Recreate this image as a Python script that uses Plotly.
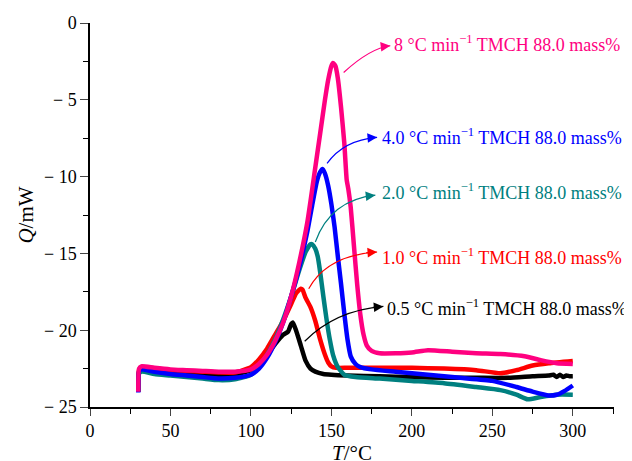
import plotly.graph_objects as go

# ---------------- data ----------------
black_x = [30, 30.5, 32, 40, 50, 60, 70, 80, 90, 100, 105, 110, 115, 120, 123, 125, 126, 128, 131, 134, 137, 140, 145, 150, 160, 180, 200, 220, 240, 260, 275, 285, 288, 290, 292, 294, 296, 298, 300]
black_y = [-24.0, -22.7, -22.5, -22.6, -22.7, -22.8, -22.85, -22.9, -22.9, -22.6, -22.2, -21.6, -20.9, -20.3, -20.1, -19.6, -19.5, -20.0, -21.0, -22.0, -22.5, -22.7, -22.85, -22.9, -22.95, -23.0, -23.05, -23.1, -23.1, -23.1, -23.0, -22.95, -22.9, -23.05, -22.9, -23.05, -22.95, -23.0, -23.0]

red_x = [30, 30.5, 32, 40, 50, 60, 70, 80, 90, 100, 105, 110, 115, 120, 125, 128, 131, 132, 134, 137, 140, 143, 146, 148, 150, 153, 160, 180, 200, 220, 240, 255, 265, 275, 285, 300]
red_y = [-24.0, -22.6, -22.4, -22.5, -22.6, -22.65, -22.7, -22.75, -22.75, -22.4, -21.9, -21.2, -20.3, -19.4, -18.3, -17.6, -17.3, -17.35, -17.9, -18.5, -19.4, -20.6, -21.6, -22.1, -22.35, -22.45, -22.45, -22.45, -22.45, -22.5, -22.6, -22.8, -22.6, -22.3, -22.15, -22.0]

teal_x = [30, 30.5, 32, 40, 50, 60, 70, 80, 90, 100, 105, 110, 115, 120, 125, 130, 134, 137, 138, 140, 141.5, 143, 145, 147, 149, 151, 154, 158, 165, 180, 200, 220, 240, 255, 265, 272, 280, 290, 300]
teal_y = [-24.0, -22.8, -22.7, -22.85, -22.95, -23.05, -23.15, -23.25, -23.2, -22.9, -22.4, -21.6, -20.6, -19.3, -17.8, -16.1, -14.9, -14.4, -14.4, -14.7, -15.2, -16.2, -17.8, -19.3, -20.6, -21.6, -22.4, -22.9, -23.05, -23.15, -23.3, -23.45, -23.7, -23.9, -24.2, -24.5, -24.35, -24.2, -24.2]

blue_x = [30, 30.5, 32, 40, 50, 60, 70, 80, 90, 100, 105, 110, 115, 120, 125, 130, 135, 138, 141, 143, 144.5, 146, 148, 150, 152, 154, 156, 158, 160, 162, 165, 168, 175, 190, 210, 230, 250, 265, 275, 285, 290, 295, 300]
blue_y = [-24.05, -22.7, -22.55, -22.7, -22.85, -22.95, -23.05, -23.15, -23.1, -22.9, -22.5, -21.8, -20.8, -19.5, -17.8, -15.9, -13.6, -11.9, -10.3, -9.7, -9.5, -9.8, -10.6, -11.8, -13.3, -15.2, -17.0, -18.9, -20.6, -21.7, -22.2, -22.4, -22.55, -22.7, -22.9, -23.1, -23.3, -23.7, -24.0, -24.25, -24.2, -23.95, -23.6]

pink_x = [30, 30.5, 32, 40, 50, 60, 70, 80, 90, 100, 105, 110, 115, 120, 125, 130, 135, 140, 143, 146, 148, 150, 151, 152.5, 154, 156, 158, 159.5, 160.5, 162, 164, 166, 168, 170, 172, 175, 180, 190, 200, 210, 225, 240, 255, 270, 280, 290, 300]
pink_y = [-24.0, -22.5, -22.35, -22.45, -22.55, -22.6, -22.65, -22.7, -22.7, -22.55, -22.2, -21.6, -20.7, -19.5, -17.8, -15.6, -13.0, -9.4, -7.2, -5.0, -3.7, -2.8, -2.6, -2.8, -3.6, -5.5, -7.8, -10.2, -10.8, -12.0, -14.5, -17.0, -19.0, -20.3, -21.0, -21.35, -21.5, -21.5, -21.45, -21.3, -21.4, -21.5, -21.55, -21.7, -21.95, -22.15, -22.2]

series_names = ["0.5", "1.0", "2.0", "4.0", "8"]
series_colors = ["#000000", "#FF0000", "#008080", "#0000FF", "#FF0080"]

# label text anchor (data coords) and curved arrow (start, control, end)
label_pos = [(183.5, -18.5), (180.4, -15.19), (180.4, -10.99), (180.4, -7.40), (187.7, -1.31)]
arrow_start = [(133.4, -20.72), (135.9, -17.30), (140.0, -14.26), (147.3, -9.14), (157.6, -3.22)]
arrow_ctrl = [(152.4, -18.71), (147.3, -15.12), (149.4, -11.53), (157.6, -7.62), (174.2, -1.63)]
arrow_end = [(182.3, -18.45), (178.4, -14.91), (177.3, -11.21), (178.4, -7.44), (186.6, -1.48)]

x_ticks = [0, 50, 100, 150, 200, 250, 300]
y_ticks = [0, -5, -10, -15, -20, -25]
y_ticktext = ["0", "\u2212 5", "\u2212 10", "\u2212 15", "\u2212 20", "\u2212 25"]

FONT = "Liberation Serif"

fig = go.Figure()
all_x = [black_x, red_x, teal_x, blue_x, pink_x]
all_y = [black_y, red_y, teal_y, blue_y, pink_y]
for xs, ys, c, n in zip(all_x, all_y, series_colors, series_names):
    fig.add_trace(go.Scatter(x=xs, y=ys, mode="lines", name=n,
                             line=dict(color=c, width=4.5, shape="spline", smoothing=0.5),
                             showlegend=False, hoverinfo="skip"))

shapes = []
annotations = []
for name, col, lp, s, c, e in zip(series_names, series_colors, label_pos, arrow_start, arrow_ctrl, arrow_end):
    shapes.append(dict(type="path", xref="x", yref="y",
                       path=f"M {s[0]},{s[1]} Q {c[0]},{c[1]} {e[0]},{e[1]}",
                       line=dict(color=col, width=1.2)))
    tx = e[0] - 0.25 * (e[0] - c[0])
    ty = e[1] - 0.25 * (e[1] - c[1])
    annotations.append(dict(x=e[0], y=e[1], ax=tx, ay=ty, xref="x", yref="y",
                            axref="x", ayref="y", text="", showarrow=True,
                            arrowhead=2, arrowsize=1.6, arrowwidth=1.2, arrowcolor=col))
    annotations.append(dict(x=lp[0], y=lp[1], xref="x", yref="y",
                            text=f"{name} \u00b0C min<sup>\u22121</sup> TMCH 88.0 mass%",
                            showarrow=False, xanchor="left", yanchor="middle",
                            font=dict(family=FONT, size=18, color=col)))

fig.update_layout(
    width=632, height=461,
    margin=dict(l=82, r=26, t=15, b=62),
    paper_bgcolor="white", plot_bgcolor="white",
    font=dict(family=FONT, size=17, color="black"),
    shapes=shapes, annotations=annotations,
    showlegend=False,
)
fig.update_xaxes(range=[0, 325.6], tickvals=x_ticks, ticks="outside", ticklen=7, tickwidth=1.3,
                 showline=True, linecolor="black", linewidth=1.5, showgrid=False, zeroline=False,
                 automargin=False,
                 minor=dict(dtick=25, ticks="outside", ticklen=5, tickwidth=1.3, tickcolor="black"),
                 tickfont=dict(family=FONT, size=18),
                 title=dict(text="<i>T</i>/\u00b0C", font=dict(family=FONT, size=21), standoff=4))
fig.update_yaxes(range=[-25, 0], tickvals=y_ticks, ticktext=y_ticktext, ticks="outside", ticklen=8,
                 tickwidth=1.3, showline=True, linecolor="black", linewidth=1.5, showgrid=False,
                 zeroline=False, automargin=False,
                 minor=dict(dtick=2.5, ticks="outside", ticklen=5, tickwidth=1.3, tickcolor="black"),
                 tickfont=dict(family=FONT, size=18),
                 title=dict(text="<i>Q</i>/mW", font=dict(family=FONT, size=21), standoff=5))

fig.write_html("out.html")
